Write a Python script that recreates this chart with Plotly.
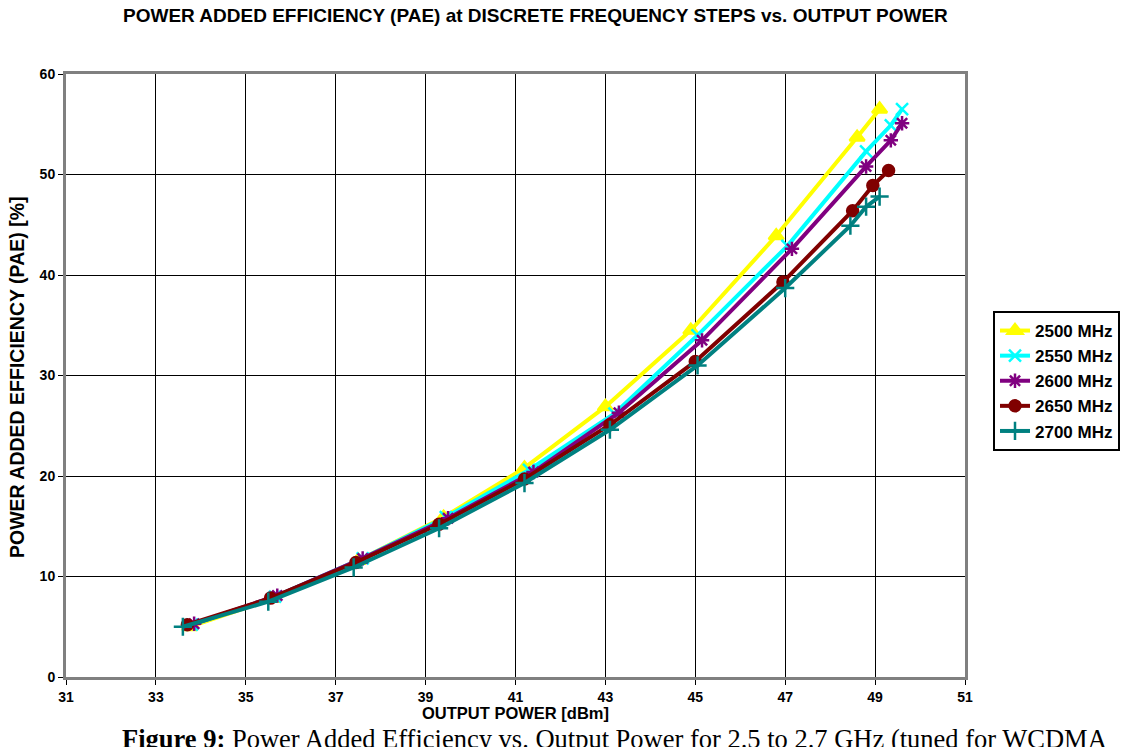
import plotly.graph_objects as go

names = ["2500 MHz", "2550 MHz", "2600 MHz", "2650 MHz", "2700 MHz"]
colors = ["#FFFF00", "#00FFFF", "#800080", "#800000", "#008080"]
symbols = ["triangle-up", "x-thin-open", "asterisk-open", "circle", "cross-thin-open"]

x_2500 = [33.75, 35.6, 37.5, 39.4, 41.2, 43.0, 44.9, 46.8, 48.6, 49.1]
y_2500 = [5.0, 7.8, 11.6, 15.9, 20.8, 26.9, 34.5, 43.9, 53.7, 56.5]
x_2550 = [33.8, 35.65, 37.6, 39.45, 41.3, 43.2, 45.05, 47.05, 48.8, 49.35, 49.6]
y_2550 = [5.2, 8.0, 11.8, 15.9, 20.6, 26.2, 34.0, 42.9, 52.3, 54.9, 56.5]
x_2600 = [33.85, 35.7, 37.6, 39.5, 41.4, 43.3, 45.15, 47.15, 48.8, 49.35, 49.6]
y_2600 = [5.3, 8.1, 11.8, 15.8, 20.4, 26.3, 33.5, 42.6, 50.8, 53.4, 55.1]
x_2650 = [33.7, 35.55, 37.45, 39.3, 41.2, 43.1, 45.0, 46.95, 48.5, 48.95, 49.3]
y_2650 = [5.2, 7.85, 11.4, 15.2, 19.7, 25.1, 31.4, 39.3, 46.4, 48.9, 50.4]
x_2700 = [33.6, 35.5, 37.4, 39.3, 41.2, 43.1, 45.05, 47.0, 48.45, 48.8, 49.1]
y_2700 = [5.0, 7.5, 10.9, 14.8, 19.3, 24.6, 31.0, 38.7, 44.9, 46.8, 47.8]

xs = [x_2500, x_2550, x_2600, x_2650, x_2700]
ys = [y_2500, y_2550, y_2600, y_2650, y_2700]
x_ticks = [31, 33, 35, 37, 39, 41, 43, 45, 47, 49, 51]
y_ticks = [0, 10, 20, 30, 40, 50, 60]

fig = go.Figure()
msizes = [13, 12, 12, 11, 13]
for n, c, s, x, y, ms in zip(names, colors, symbols, xs, ys, msizes):
    fig.add_trace(go.Scatter(
        x=x, y=y, name=n, mode="lines+markers",
        line=dict(color=c, width=4),
        marker=dict(symbol=s, size=ms, color=c, line=dict(color=c, width=2.5)),
    ))

fam = "Arial, Liberation Sans, sans-serif"
L, T, W, H = 66, 74, 899, 603

def px(xp):
    return (xp - L) / W

def py(yp):
    return (T + H - yp) / H

fig.update_layout(
    width=1122, height=747,
    margin=dict(l=66, r=157, t=74, b=70, autoexpand=False),
    paper_bgcolor="white", plot_bgcolor="white",
    showlegend=True,
    legend=dict(x=px(993), y=py(311), xanchor="left", yanchor="top",
                bordercolor="black", borderwidth=2, bgcolor="white",
                font=dict(family=fam, size=17, color="black", weight="bold"),
                itemwidth=30, tracegroupgap=0),
    xaxis=dict(range=[31, 51], tickvals=x_ticks, ticktext=[str(v) for v in x_ticks],
               showgrid=True, gridcolor="black", gridwidth=1,
               showline=True, linecolor="#808080", linewidth=3, mirror=True,
               ticks="outside", ticklen=5, tickcolor="black", zeroline=False,
               tickfont=dict(family=fam, size=14, color="black", weight="bold")),
    yaxis=dict(range=[0, 60], tickvals=y_ticks, ticktext=[str(v) for v in y_ticks],
               showgrid=True, gridcolor="black", gridwidth=1,
               showline=True, linecolor="#808080", linewidth=3, mirror=True,
               ticks="outside", ticklen=5, tickcolor="black", zeroline=False,
               tickfont=dict(family=fam, size=14, color="black", weight="bold")),
    annotations=[
        dict(text="POWER ADDED EFFICIENCY (PAE) at DISCRETE FREQUENCY STEPS vs. OUTPUT POWER",
             xref="paper", yref="paper", x=px(535), y=py(16), xanchor="center", yanchor="middle",
             showarrow=False,
             font=dict(family=fam, size=19, color="black", weight="bold")),
        dict(text="OUTPUT POWER [dBm]",
             xref="paper", yref="paper", x=px(515), y=py(713), xanchor="center", yanchor="middle",
             showarrow=False,
             font=dict(family=fam, size=16.5, color="black", weight="bold")),
        dict(text="POWER ADDED EFFICIENCY (PAE) [%]", textangle=-90,
             xref="paper", yref="paper", x=px(17), y=py(378), xanchor="center", yanchor="middle",
             showarrow=False,
             font=dict(family=fam, size=19.5, color="black", weight="bold")),
        dict(text="<b>Figure 9:</b> Power Added Efficiency vs. Output Power for 2.5 to 2.7 GHz (tuned for WCDMA",
             xref="paper", yref="paper", x=px(120), y=py(722),
             xanchor="left", yanchor="top", showarrow=False,
             font=dict(family="Liberation Serif, Times New Roman, serif", size=26.5, color="black")),
    ],
)

fig.write_html("out.html")
